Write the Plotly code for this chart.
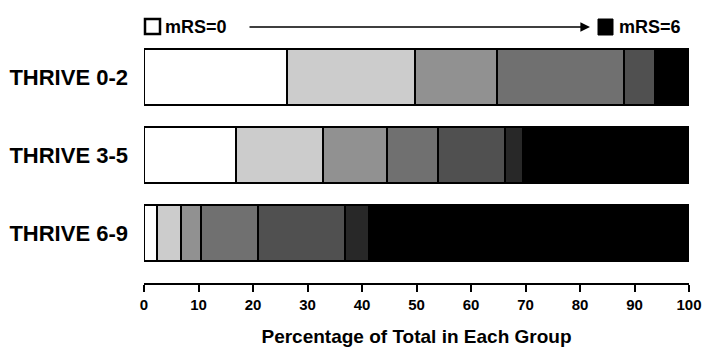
import plotly.graph_objects as go

groups = ["THRIVE 0-2", "THRIVE 3-5", "THRIVE 6-9"]
mrs_labels = ["mRS=0", "mRS=1", "mRS=2", "mRS=3", "mRS=4", "mRS=5", "mRS=6"]
# percentage in each mRS category per group
values = {
    "mRS=0": [26.2, 16.9, 2.4],
    "mRS=1": [23.5, 15.9, 4.4],
    "mRS=2": [15.0, 11.8, 3.7],
    "mRS=3": [23.4, 9.3, 10.4],
    "mRS=4": [5.7, 12.3, 16.0],
    "mRS=5": [0.0, 3.3, 4.4],
    "mRS=6": [6.2, 30.5, 58.7],
}
colors = ["#ffffff", "#cccccc", "#919191", "#707070", "#505050", "#282828", "#000000"]
xticks = [0, 10, 20, 30, 40, 50, 60, 70, 80, 90, 100]

FONT = "Liberation Sans, Arial, sans-serif"

fig = go.Figure()
for lab, col in zip(mrs_labels, colors):
    fig.add_trace(go.Bar(
        y=groups, x=values[lab], orientation="h", name=lab,
        marker=dict(color=col, line=dict(color="#000000", width=2)),
        showlegend=False, hoverinfo="x+name",
    ))

fig.update_layout(
    barmode="stack",
    bargap=0.284,
    width=704, height=349,
    margin=dict(l=144, r=15, t=38, b=66),
    paper_bgcolor="white", plot_bgcolor="white",
    font=dict(family=FONT, color="#000000"),
    xaxis=dict(
        range=[0, 100], tickvals=xticks, ticktext=[str(v) for v in xticks],
        showgrid=False, zeroline=False, showline=True, linecolor="#000000", linewidth=2,
        ticks="outside", ticklen=7, tickwidth=2, tickcolor="#000000",
        tickfont=dict(family=FONT, size=15, weight="bold"),
        automargin=False,
        title=dict(text="Percentage of Total in Each Group",
                   font=dict(family=FONT, size=19, weight="bold"), standoff=18),
    ),
    yaxis=dict(
        categoryorder="array", categoryarray=groups,
        range=[2.635, -0.5],
        showgrid=False, zeroline=False, showline=False, ticks="",
        tickfont=dict(family=FONT, size=22, weight="bold"),
        ticklabelstandoff=15,
        automargin=False,
    ),
)

# header key: white square, arrow, black square
def ppx(px):
    return (px - 144) / 545.0

def ppy(py):
    return (283 - py) / 245.0

fig.add_shape(type="rect", xref="paper", yref="paper",
              x0=ppx(145), x1=ppx(160), y0=ppy(34), y1=ppy(19),
              line=dict(color="#000000", width=2.5), fillcolor="#ffffff")
fig.add_shape(type="rect", xref="paper", yref="paper",
              x0=ppx(598), x1=ppx(613), y0=ppy(35), y1=ppy(19),
              line=dict(color="#000000", width=1), fillcolor="#000000")
fig.add_annotation(xref="paper", yref="paper", x=ppx(163), y=ppy(27),
                   text="mRS=0", showarrow=False, xanchor="left", yanchor="middle",
                   font=dict(family=FONT, size=18, weight="bold", color="#000000"))
fig.add_annotation(xref="paper", yref="paper", x=ppx(617), y=ppy(27),
                   text="mRS=6", showarrow=False, xanchor="left", yanchor="middle",
                   font=dict(family=FONT, size=18, weight="bold", color="#000000"))
fig.add_annotation(xref="paper", yref="paper", x=ppx(590), y=ppy(27),
                   ax=-342, ay=0, axref="pixel", ayref="pixel",
                   text="", showarrow=True, arrowhead=2, arrowsize=1.2,
                   arrowwidth=1.6, arrowcolor="#000000")

fig.write_html("out.html",
               config={"displayModeBar": False},
               post_script="document.body.style.margin='0';document.body.style.overflow='hidden';")
